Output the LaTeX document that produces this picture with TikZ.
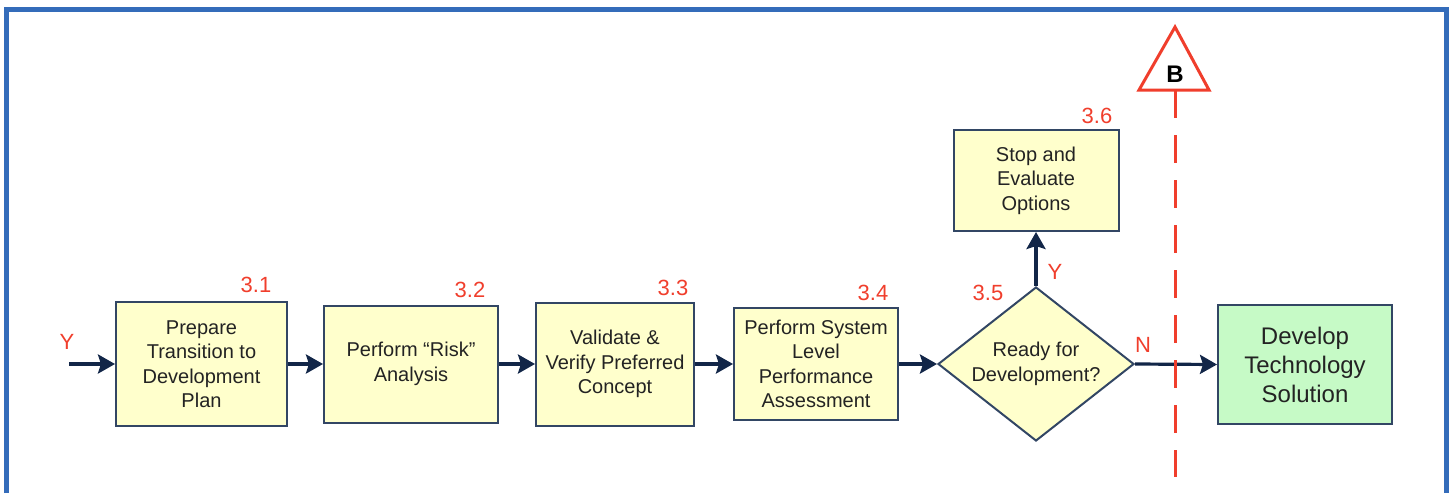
\documentclass[tikz,border=0pt]{standalone}
\usepackage{fontspec}
\setsansfont{Liberation Sans}
\usetikzlibrary{arrows.meta,shapes.geometric}
\definecolor{boxfill}{RGB}{255,255,204}
\definecolor{solfill}{RGB}{198,250,198}
\definecolor{boxline}{RGB}{50,70,100}
\definecolor{flowline}{RGB}{18,38,72}
\definecolor{labelred}{RGB}{240,62,44}
\definecolor{frameblue}{RGB}{52,108,186}
\definecolor{boxtext}{RGB}{35,35,35}

\begin{document}
\begin{tikzpicture}[x=1pt,y=-1pt,font=\sffamily,
    >={Stealth[length=17pt,width=19pt,inset=3pt]},
    taskbox/.style={draw=boxline,line width=2pt,fill=boxfill,text=boxtext,align=center,
        inner sep=0pt,font=\sffamily\fontsize{20}{24.5}\selectfont},
    decision/.style={taskbox,shape=diamond,aspect=1.27},
    numlabel/.style={text=labelred,inner sep=0pt,font=\sffamily\fontsize{22}{24}\selectfont},
    flow/.style={draw=flowline,line width=3.2pt},
    gateline/.style={draw=labelred,line width=3pt}]
    \useasboundingbox (0,0) rectangle (1453,493);
    \draw [frameblue,line width=5pt] (6.5,493) -- (6.5,9.5) -- (1446.5,9.5) -- (1446.5,493);

    % process steps
    \node [taskbox,minimum width=171pt,minimum height=124pt] (prep) at (201.5,364)
        {Prepare\\Transition to\\Development\\Plan};
    \node [taskbox,minimum width=174pt,minimum height=117pt] (risk) at (411,364)
        {Perform ``Risk''\\Analysis};
    \node [taskbox,minimum width=158pt,minimum height=123pt] (verify) at (615,364)
        {Validate \&\\Verify Preferred\\Concept};
    \node [taskbox,minimum width=164pt,minimum height=112pt] (assess) at (816,364)
        {Perform System\\Level\\Performance\\Assessment};
    \node [decision,minimum width=196pt,minimum height=154pt] (ready) at (1036,364)
        {Ready for\\Development?};
    \node [taskbox,minimum width=165pt,minimum height=101pt] (stop) at (1036,180.5)
        {Stop and\\Evaluate\\Options};
    \node [taskbox,fill=solfill,minimum width=174pt,minimum height=119pt,
        font=\sffamily\fontsize{24}{29}\selectfont] (develop) at (1305,364.5)
        {Develop\\Technology\\Solution};

    \node [numlabel] (n31) at (256,285) {3.1};
    \node [numlabel] (n32) at (470,290) {3.2};
    \node [numlabel] (n33) at (673,288) {3.3};
    \node [numlabel] (n34) at (873,293) {3.4};
    \node [numlabel] (n35) at (988,293) {3.5};
    \node [numlabel] (n36) at (1097,116) {3.6};

    \coordinate (entry) at (69,364);
    \node [numlabel] (yin) at (67,342) {Y};
    \draw [flow,->] (entry) -- (prep);
    \draw [flow,->] (prep) -- (risk);
    \draw [flow,->] (risk) -- (verify);
    \draw [flow,->] (verify) -- (assess);
    \draw [flow,->] (assess) -- (ready);
    \draw [flow,->] (ready.north) -- (stop.south);
    \node [numlabel] (yes) at (1055,272) {Y};
    \draw [flow,->] (ready.east) -- (develop.west);
    \node [numlabel] (no) at (1143,345) {N};

    % gate B
    \draw [gateline,fill=white,line join=miter] (1139,90) -- (1175,27) -- (1209,90) -- cycle;
    \node [font=\sffamily\bfseries\fontsize{24}{24}\selectfont,inner sep=0pt] (gateB) at (1175,74) {B};
    \coordinate (gatetop) at (1175,90);
    \coordinate (gatebot) at (1175,477);
    \draw [gateline,dash pattern=on 28pt off 17pt] (gatetop) -- (gatebot);
\end{tikzpicture}
\end{document}
